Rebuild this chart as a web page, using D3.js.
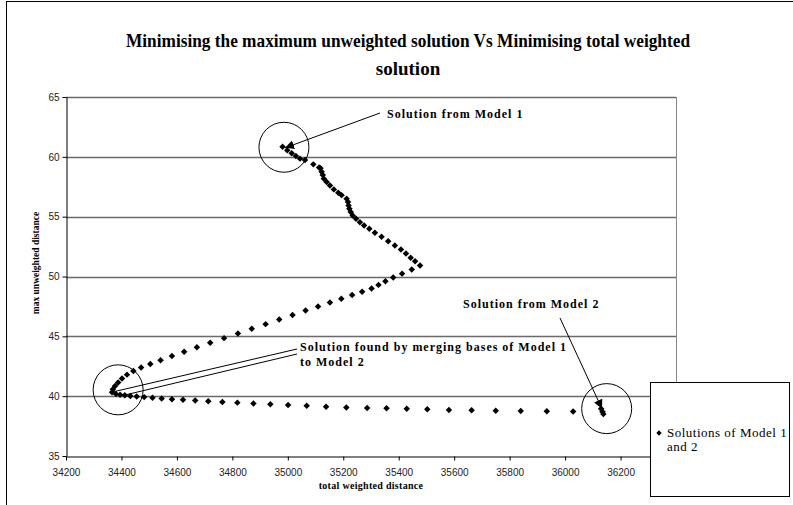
<!DOCTYPE html>
<html><head><meta charset="utf-8">
<script src="https://cdn.jsdelivr.net/npm/d3@7"></script>
<style>body{margin:0;background:#fff}svg{display:block}</style>
</head><body>
<svg id="c" width="793" height="505"></svg>
<script>
const titleLines=["Minimising the maximum unweighted solution Vs Minimising total weighted","solution"];
const xTitle="total weighted distance";
const yTitle="max unweighted distance";
const legendLabel=["Solutions of Model 1","and 2"];
const xTicks=[34200,34400,34600,34800,35000,35200,35400,35600,35800,36000,36200,36400];
const yTicks=[35,40,45,50,55,60,65];

// series: Solutions of Model 1 and 2
const totalWeighted=[
34981,34998,35014,35029,35044,35062,35092,35113,
35118,35122,35126,35130,35140,35152,35166,35182,35194,
35212,35217,35219,35222,35227,35234,35246,35260,35275,35294,
35314,35338,35362,35386,35408,35426,35443,35459,35477,
35447,35412,35380,35352,35327,35302,
35268,35232,35193,35152,35109,35064,35017,34969,34920,34870,34820,34770,34720,
34672,34626,34582,34541,34504,34471,34443,34420,34402,34388,34377,34369,34366,
34380,34395,34412,34432,34455,34482,34512,34545,34582,34622,34666,34713,34764,
34818,34876,34937,35001,35068,35138,35211,35286,35356,35429,35503,35581,35663,
35750,35840,35934,36029,36130,36135,36138];
const maxUnweighted=[
60.85,60.54,60.29,60.07,59.85,59.73,59.37,59.10,
59.04,58.76,58.48,58.17,57.89,57.61,57.28,57.00,56.80,
56.50,56.22,55.94,55.66,55.38,55.10,54.82,54.54,54.26,53.99,
53.65,53.32,52.95,52.59,52.25,51.92,51.56,51.27,50.91,
50.58,50.24,49.92,49.60,49.30,48.99,
48.73,48.45,48.15,47.83,47.50,47.15,46.78,46.40,46.02,45.63,45.24,44.85,44.46,
44.08,43.71,43.35,43.01,42.69,42.39,42.10,41.80,41.48,41.15,40.85,40.58,40.32,
40.18,40.12,40.07,40.02,39.97,39.92,39.86,39.81,39.75,39.70,39.64,39.58,39.52,
39.46,39.39,39.33,39.26,39.19,39.12,39.06,39.01,38.99,38.94,38.91,38.85,38.83,
38.79,38.77,38.74,38.71,38.95,38.70,38.50];

// annotations (data space anchors)
const circleCenters=[[34986,60.8],[34388,40.53],[36150,38.96]];
const noteModel1={text:"Solution from Model 1",tip:[34990,60.75]};
const noteModel2={text:"Solution from Model 2",tip:[36133,38.95]};
const noteMerge={lines:["Solution found by merging bases of Model 1","to Model 2"],tips:[[34368,40.35],[34395,40.0]]};

const svg=d3.select("#c");
const x=d3.scaleLinear().domain([34200,36400]).range([66,676]);
const y=d3.scaleLinear().domain([35,65]).range([456,97]);
const serif="'Liberation Serif','Times New Roman',serif";
const sans="'Liberation Sans',Arial,sans-serif";

// outer frame
svg.append("rect").attr("x",6.5).attr("y",1.5).attr("width",820).attr("height",530)
  .attr("fill","none").attr("stroke","#000").attr("stroke-width",1);

// title
svg.append("g").selectAll("text").data(titleLines).join("text")
  .attr("x",408).attr("y",(d,i)=>47+i*28).attr("text-anchor","middle")
  .attr("font-family",serif).attr("font-weight","bold").attr("font-size",19)
  .attr("textLength",(d,i)=>i===0?564:null).attr("lengthAdjust","spacingAndGlyphs")
  .text(d=>d);

// gridlines
svg.append("g").selectAll("line").data(yTicks.filter(v=>v>35)).join("line")
  .attr("x1",x(34200)).attr("x2",x(36400)).attr("y1",d=>Math.round(y(d))+0.5).attr("y2",d=>Math.round(y(d))+0.5)
  .attr("stroke","#6a6a6a").attr("stroke-width",1.3);
// plot border right
svg.append("line").attr("x1",x(36400)+0.5).attr("x2",x(36400)+0.5).attr("y1",y(65)).attr("y2",y(35))
  .attr("stroke","#8a8a8a").attr("stroke-width",1);

// axes
const xAxis=svg.append("g").attr("transform",`translate(0,${Math.round(y(35))+0.5})`)
  .call(d3.axisBottom(x).tickValues(xTicks).tickSize(4).tickSizeOuter(0).tickFormat(d=>d));
const yAxis=svg.append("g").attr("transform",`translate(${Math.round(x(34200))+0.5},0)`)
  .call(d3.axisLeft(y).tickValues(yTicks).tickSize(4).tickSizeOuter(0).tickFormat(d=>d));
[xAxis,yAxis].forEach(g=>{
  g.selectAll("path,line").attr("stroke","#000");
  g.selectAll("text").attr("font-family",sans).attr("font-size",10).attr("fill","#222");
});
xAxis.selectAll("text").attr("dy","1.2em");

// axis titles
svg.append("text").attr("x",371).attr("y",489).attr("text-anchor","middle")
  .attr("font-family",serif).attr("font-weight","bold").attr("font-size",10).attr("letter-spacing",0.3).text(xTitle);
svg.append("text").attr("transform","translate(39,263) rotate(-90)").attr("text-anchor","middle")
  .attr("font-family",serif).attr("font-weight","bold").attr("font-size",9.5).text(yTitle);

// data points
const pts=totalWeighted.map((v,i)=>[v,maxUnweighted[i]]);
const diamond=d3.symbol().type(d3.symbolSquare).size(21);
svg.append("g").selectAll("path").data(pts).join("path")
  .attr("d",diamond).attr("fill","#000")
  .attr("transform",d=>`translate(${x(d[0])},${y(d[1])}) rotate(45)`);

// annotation circles
svg.append("g").selectAll("circle").data(circleCenters).join("circle")
  .attr("cx",d=>x(d[0])).attr("cy",d=>y(d[1])).attr("r",25)
  .attr("fill","none").attr("stroke","#000").attr("stroke-width",1);

// arrow marker
svg.append("defs").append("marker").attr("id","ah").attr("viewBox","0 0 10 10")
  .attr("refX",10).attr("refY",5).attr("markerWidth",9).attr("markerHeight",9)
  .attr("markerUnits","userSpaceOnUse").attr("orient","auto")
  .append("path").attr("d","M0,0L10,5L0,10z").attr("fill","#000");

const noteFont=g=>g.attr("font-family",serif).attr("font-weight","bold").attr("font-size",12).attr("letter-spacing",1);

// model 1
svg.append("text").attr("x",387).attr("y",117.5).text(noteModel1.text).call(noteFont);
svg.append("line").attr("x1",380).attr("y1",113).attr("x2",x(noteModel1.tip[0])).attr("y2",y(noteModel1.tip[1]))
  .attr("stroke","#000").attr("stroke-width",1).attr("marker-end","url(#ah)");
// model 2
svg.append("text").attr("x",463).attr("y",307.5).text(noteModel2.text).call(noteFont);
svg.append("line").attr("x1",560).attr("y1",318).attr("x2",x(noteModel2.tip[0])).attr("y2",y(noteModel2.tip[1]))
  .attr("stroke","#000").attr("stroke-width",1).attr("marker-end","url(#ah)");
// merge
svg.append("g").selectAll("text").data(noteMerge.lines).join("text")
  .attr("x",300).attr("y",(d,i)=>350.5+i*15).text(d=>d).call(noteFont);
svg.append("g").selectAll("line").data(noteMerge.tips).join("line")
  .attr("x1",297).attr("y1",(d,i)=>349+i*5).attr("x2",d=>x(d[0])).attr("y2",d=>y(d[1]))
  .attr("stroke","#000").attr("stroke-width",1);

// legend
const lg=svg.append("g");
lg.append("rect").attr("x",650.5).attr("y",382.5).attr("width",139).attr("height",114)
  .attr("fill","#fff").attr("stroke","#000").attr("stroke-width",1);
lg.append("path").attr("d",d3.symbol().type(d3.symbolSquare).size(14)).attr("fill","#000")
  .attr("transform","translate(659,433) rotate(45)");
lg.selectAll("text").data(legendLabel).join("text")
  .attr("x",667).attr("y",(d,i)=>437+i*14).attr("font-family",serif).attr("font-size",13)
  .attr("letter-spacing",0.5).text(d=>d);
</script>
</body></html>
